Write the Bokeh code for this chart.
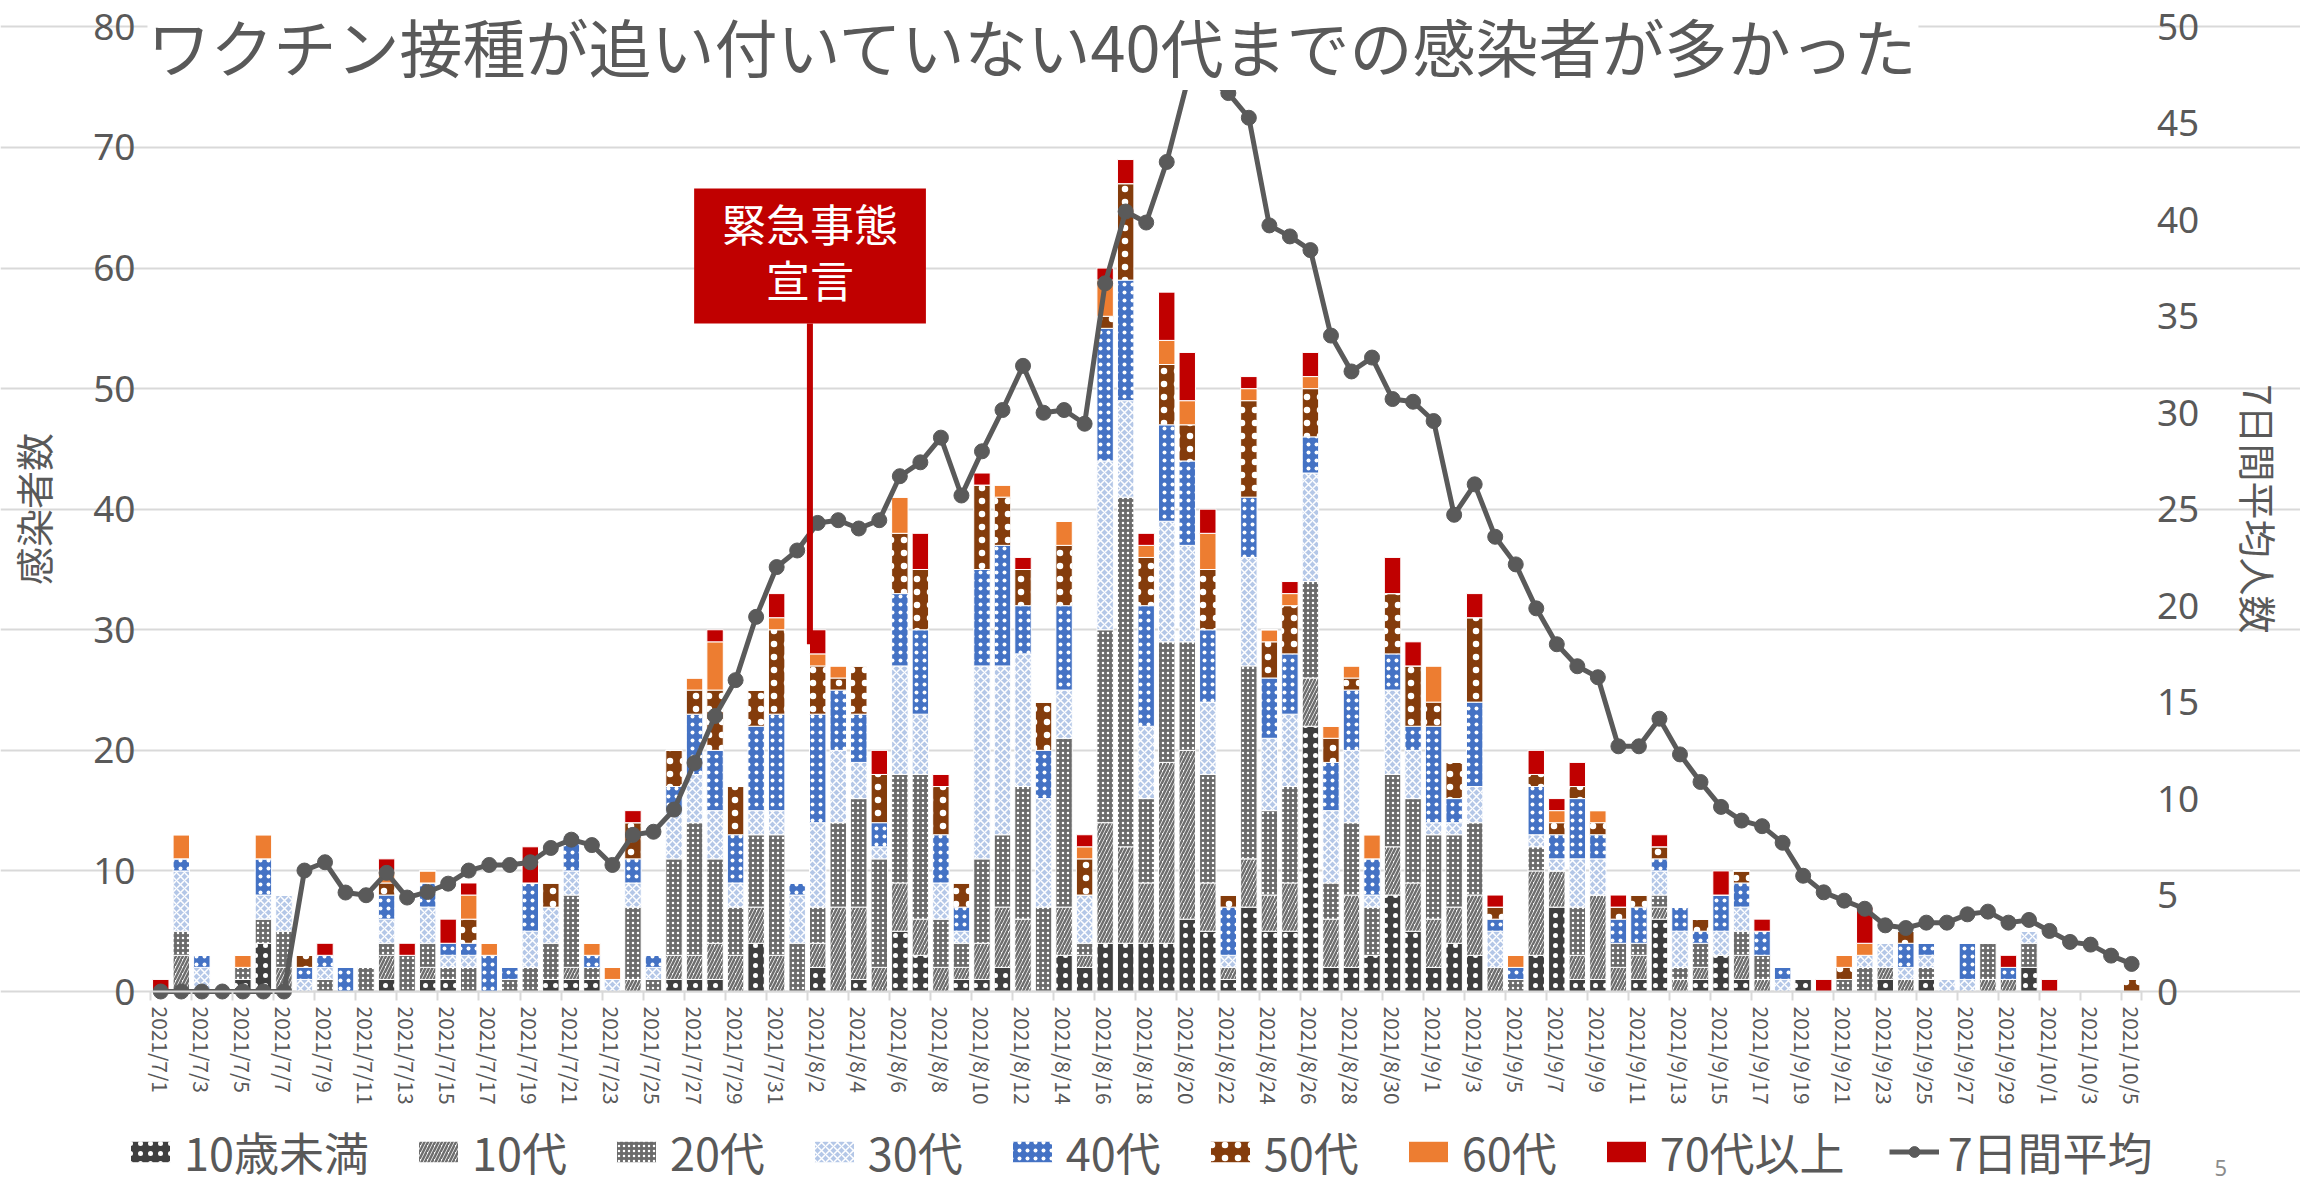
import pandas as pd
from bokeh.plotting import figure
from bokeh.models import (Range1d, LinearAxis, FixedTicker, Legend, LegendItem,
                          Label, ColumnDataSource)
from bokeh.embed import file_html
from bokeh.resources import INLINE
from bokeh.core.properties import value

# ---------------- data ----------------
dates = [f"2021/{d.month}/{d.day}" for d in pd.date_range("2021-07-01", "2021-10-05")]

u10 = [0,0,0,0,1,4,0,0,0,0, 0,1,0,1,1,0,0,0,0,1, 1,1,0,0,0,1,1,1,0,4,
       0,0,2,0,1,0,5,3,0,1, 1,2,0,0,3,2,4,4,4,4, 6,5,1,7,5,5,22,2,2,3,
       8,5,2,4,3,0,0,3,7,1, 1,0,1,6,0,1,3,1,0,0, 1,0,0,0,1,0,1,0,0,0,
       0,2,0,0,0,0,0]
t10 = [0,3,0,0,0,0,2,0,0,0, 0,2,0,1,0,0,0,0,0,0, 1,0,0,1,0,2,2,3,3,3,
       3,0,2,7,6,2,4,3,2,1, 3,5,6,0,4,1,10,8,5,15, 14,4,1,4,3,4,4,4,6,0,
       4,4,4,3,5,2,0,7,3,2, 7,2,2,1,1,1,0,2,1,0, 0,0,0,0,1,1,0,0,0,1,
       1,0,0,0,0,0,0]
t20 = [0,2,0,0,1,2,3,0,1,0, 2,1,3,2,1,2,0,1,2,3, 6,1,0,6,1,8,11,7,4,6,
       10,4,3,7,9,9,9,12,4,2, 7,6,11,7,14,1,16,29,7,10, 9,9,0,16,7,8,8,3,6,4,
       6,7,7,6,6,0,1,2,0,4, 0,2,1,1,1,2,0,2,2,0, 0,0,1,2,0,0,1,0,0,3,
       0,2,0,0,0,0,0]
t30 = [0,5,2,0,0,2,3,1,1,0, 0,2,0,3,1,1,0,0,3,3, 2,0,1,2,1,4,4,4,2,2,
       2,4,7,6,3,1,9,5,3,1, 16,14,11,9,4,4,14,8,6,10, 8,6,1,9,6,6,9,6,6,1,
       7,4,1,1,3,3,0,1,1,4, 3,0,0,2,3,0,2,2,0,1, 0,0,0,1,2,1,1,1,1,0,
       0,1,0,0,0,0,0]
t40 = [0,1,1,0,0,3,0,1,1,2, 0,2,0,2,1,1,3,1,4,0, 3,1,0,2,1,2,5,5,4,7,
       8,1,9,5,4,2,6,7,4,2, 8,10,4,4,7,0,11,10,10,8, 7,6,4,5,5,5,3,4,5,3,
       3,2,8,2,7,1,1,4,2,5, 2,2,3,1,2,1,3,2,2,1, 0,0,0,0,0,2,1,0,3,0,
       1,0,0,0,0,0,0]
t50 = [0,0,0,0,0,0,0,1,0,0, 0,1,0,0,0,2,0,0,0,2, 0,0,0,3,0,3,2,5,4,3,
       7,0,4,1,4,4,5,5,4,2, 7,4,3,4,5,3,1,8,4,5, 3,5,1,8,3,4,4,2,1,0,
       5,5,2,3,7,1,0,1,1,1, 1,1,1,1,0,1,0,1,0,0, 0,0,1,0,0,1,0,0,0,0,
       0,0,0,0,0,0,1]
t60 = [0,2,0,0,1,2,0,0,0,0, 0,1,0,1,0,2,1,0,0,0, 0,1,1,0,0,0,1,4,0,0,
       1,0,1,1,0,0,3,0,0,0, 0,1,0,0,2,1,3,0,1,2, 2,3,0,1,1,1,1,1,1,2,
       0,0,3,0,0,0,1,0,1,0, 1,0,0,0,0,0,0,0,0,0, 0,0,1,1,0,0,0,0,0,0,
       0,0,0,0,0,0,0]
t70 = [1,0,0,0,0,0,0,0,1,0, 0,1,1,0,2,1,0,0,3,0, 0,0,0,1,0,0,0,1,0,0,
       2,0,2,0,0,2,0,3,1,0, 1,0,1,0,0,1,1,2,1,4, 4,2,0,1,0,1,2,0,0,0,
       3,2,0,0,2,1,0,2,1,2, 0,1,0,1,0,0,2,0,1,0, 0,1,0,3,0,0,0,0,0,0,
       1,0,1,0,0,0,0]
avg7 = [0,0,0,0,0,0,0,
        6.27,6.70,5.13,4.99,6.15,4.87,5.16,5.59,6.27,6.56,
        6.56,6.70,7.44,7.87,7.59,6.56,8.12,8.28,9.43,11.85,
        14.28,16.14,19.42,22.0,22.86,24.29,24.43,24.0,24.43,26.71,
        27.43,28.71,25.71,28.0,30.14,32.43,30.0,30.14,29.43,36.71,
        40.43,39.86,43.0,47.14,47.29,46.57,45.29,39.71,39.14,38.43,
        34.0,32.14,32.86,30.71,30.57,29.57,24.71,26.29,23.57,22.14,
        19.86,18.0,16.86,16.29,12.71,12.71,14.14,12.29,10.86,9.57,
        8.86,8.57,7.71,6.0,5.14,4.71,4.29,3.43,3.29,3.57,
        3.57,4.0,4.14,3.57,3.71,3.14,2.57,2.43,1.86,1.43]

series_keys = ["u10", "t10", "t20", "t30", "t40", "t50", "t60", "t70"]
series_labels = ["10歳未満", "10代", "20代", "30代", "40代", "50代", "60代", "70代以上"]
avg_label = "7日間平均"
left_ticks = [0, 10, 20, 30, 40, 50, 60, 70, 80]
right_ticks = [0, 5, 10, 15, 20, 25, 30, 35, 40, 45, 50]
title_text = "ワクチン接種が追い付いていない40代までの感染者が多かった"
page_no = "5"

# ---------------- geometry (the frame fills the canvas; axes sit at fixed spots) ----------------
W, H = 2300, 1184
N = len(dates)
PLOT_L, PLOT_R = 150.0, 2141.4       # canvas px of category edges -0.5 and N-0.5
Y0_PX, Y80_PX = 991.0, 26.4          # canvas px (from top) of left values 0 and 80
pxx = (PLOT_R - PLOT_L) / N
pxy = (Y0_PX - Y80_PX) / 80.0
x_lo = -0.5 - PLOT_L / pxx
x_hi = N - 0.5 + (W - PLOT_R) / pxx
y_hi = 80 + Y80_PX / pxy
y_lo = -(H - Y0_PX) / pxy
R = 50 / 80

FONT = "Noto Sans CJK JP"
NUMFONT = "Noto Sans"
TXT = "#595959"
fills = ["#3f3f3f", "white", "#6b6b6b", "#b4c7e7", "#4472c4", "#843c0c", "#ed7d31", "#c00000"]
pats = ["dot", "right_diagonal_line", "dot", "diagonal_cross", "dot", "dot", None, None]
hcols = ["white", "#6e6e6e", "white", "white", "white", "white", "white", "white"]
hscales = [10, 7, 5, 8, 8, 13, 12, 12]
hweights = [1, 2.5, 1, 1.5, 1, 1, 1, 1]

xs = list(range(N))
src = ColumnDataSource(dict(x=xs, u10=u10, t10=t10, t20=t20, t30=t30, t40=t40,
                            t50=t50, t60=t60, t70=t70, avg=avg7))

p = figure(width=W, height=H, output_backend="svg", toolbar_location=None, title=None,
           x_range=Range1d(x_lo, x_hi), y_range=Range1d(y_lo, y_hi), min_border=0)
p.outline_line_color = None
p.extra_y_ranges = {"avg": Range1d(y_lo * R, y_hi * R)}

p.xgrid.visible = False
p.ygrid.ticker = FixedTicker(ticks=left_ticks)
p.ygrid.bounds = (-0.5, N - 0.5)
p.ygrid.grid_line_color = "#d9d9d9"
p.ygrid.grid_line_width = 2

xa = p.xaxis[0]
xa.fixed_location = 0
xa.bounds = (-0.5, N - 0.5)
xa.ticker = FixedTicker(ticks=xs[::2], minor_ticks=[i - 0.5 for i in xs[::2]] + [N - 0.5])
xa.major_label_overrides = {i: dates[i] for i in xs}
xa.major_label_orientation = "vertical"
xa.major_tick_line_color = None
xa.major_tick_out = 0
xa.major_tick_in = 0
xa.minor_tick_line_color = "#d9d9d9"
xa.minor_tick_line_width = 2
xa.minor_tick_out = 9
xa.minor_tick_in = 0
xa.axis_line_color = "#d9d9d9"
xa.axis_line_width = 2
xa.major_label_text_font = FONT
xa.major_label_text_font_size = "21px"
xa.major_label_text_color = TXT
xa.major_label_standoff = 6

ya = p.yaxis[0]
ya.fixed_location = -0.5
ya.bounds = (0, 80)
ya.ticker = FixedTicker(ticks=left_ticks)
ya.axis_line_color = None
ya.major_tick_line_color = None
ya.minor_tick_line_color = None
ya.major_tick_out = 0
ya.major_label_text_font = NUMFONT
ya.major_label_text_font_size = "37px"
ya.major_label_text_color = TXT
ya.major_label_standoff = 15
ya.axis_label = "感染者数"
ya.axis_label_text_font = FONT
ya.axis_label_text_font_size = "38px"
ya.axis_label_text_font_style = "normal"
ya.axis_label_text_color = TXT
ya.axis_label_standoff = 30

ra = LinearAxis(y_range_name="avg", ticker=FixedTicker(ticks=right_ticks),
                fixed_location=N - 0.5, bounds=(0, 50))
ra.axis_line_color = None
ra.major_tick_line_color = None
ra.minor_tick_line_color = None
ra.major_tick_out = 0
ra.major_label_text_font = NUMFONT
ra.major_label_text_font_size = "37px"
ra.major_label_text_color = TXT
ra.major_label_standoff = 15
ra.axis_label = "7日間平均人数"
ra.axis_label_text_font = FONT
ra.axis_label_text_font_size = "38px"
ra.axis_label_text_font_style = "normal"
ra.axis_label_text_color = TXT
ra.axis_label_standoff = 30
p.add_layout(ra, "right")

bars = p.vbar_stack(series_keys, x="x", width=0.8, source=src,
                    fill_color=fills, line_color="white", line_width=1,
                    hatch_pattern=pats, hatch_color=hcols, hatch_scale=hscales,
                    hatch_weight=hweights)

LINE_C = "#5a5a5a"
ln = p.line("x", "avg", source=src, y_range_name="avg", line_color=LINE_C, line_width=5)
sc = p.scatter("x", "avg", source=src, y_range_name="avg", marker="circle", size=15,
               fill_color=LINE_C, line_color=LINE_C)

# annotation "緊急事態宣言"
ann_x = 31.62
p.segment(x0=[ann_x], y0=[55.4], x1=[ann_x], y1=[28.8], line_color="#c00000", line_width=6)
p.quad(left=[25.98], right=[37.27], bottom=[55.4], top=[66.6], fill_color="#c00000", line_color=None)
p.text(x=[ann_x, ann_x], y=[63.7, 59.1], text=["緊急事態", "宣言"], text_align="center",
       text_baseline="middle", text_color="white", text_font=value(FONT), text_font_size="44px")

# title over the top grid line
p.add_layout(Label(x=147, y=H - 44, x_units="screen", y_units="screen", text=title_text,
                   text_font=FONT, text_font_size="63px", text_color=TXT, text_baseline="middle",
                   background_fill_color="white"))

# legend along the bottom
items = [LegendItem(label=lab, renderers=[r]) for lab, r in zip(series_labels, bars)]
items.append(LegendItem(label=avg_label, renderers=[ln, sc]))
leg = Legend(items=items, orientation="horizontal", location=(125, 0))
leg.label_text_font = FONT
leg.label_text_font_size = "45px"
leg.label_text_color = TXT
leg.glyph_width = 50
leg.glyph_height = 27
leg.label_standoff = 9
leg.spacing = 44
leg.padding = 0
leg.margin = 0
leg.border_line_color = None
leg.background_fill_alpha = 0
p.add_layout(leg)

# page number
p.add_layout(Label(x=2214, y=17, x_units="screen", y_units="screen", text=page_no,
                   text_font=NUMFONT, text_font_size="22px", text_color="#8c8c8c",
                   text_baseline="middle"))

open("out.html", "w").write(file_html(p, INLINE))
